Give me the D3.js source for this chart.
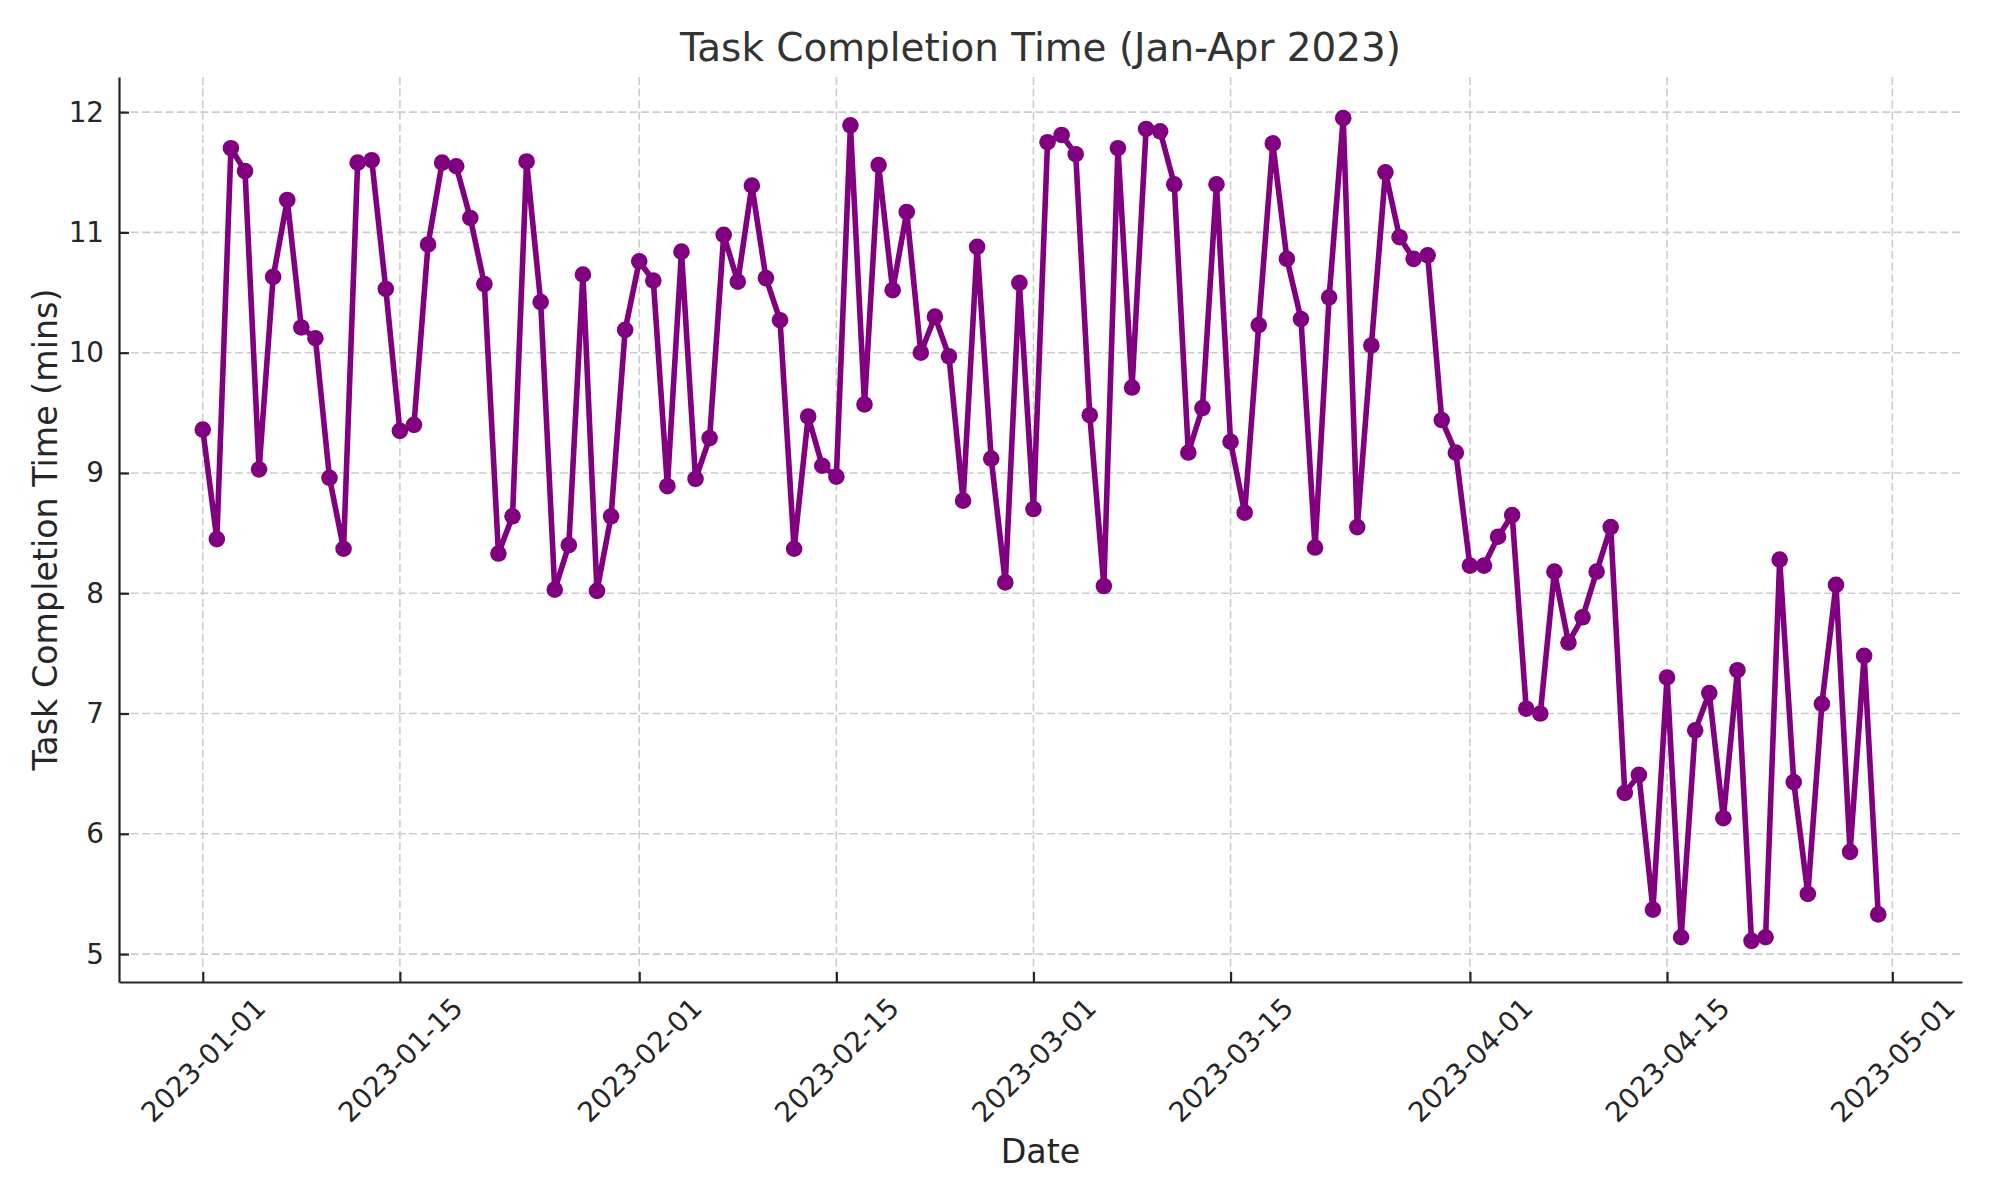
<!DOCTYPE html>
<html>
<head>
<meta charset="utf-8">
<script src="https://cdn.jsdelivr.net/npm/d3@7"></script>
<style>
    body { margin: 0; background: #fff; }
    svg text { font-family: 'DejaVu Sans', sans-serif; }
</style>
</head>
<body>
<svg id="chart"></svg>
<script>
// daily values, 2023-01-01 .. 2023-04-30
const startDate = '2023-01-01';
const endDate = '2023-05-01'; // exclusive
const completionTimes = [
    9.36, 8.45, 11.70, 11.51, 9.03, 10.63, 11.27, 10.21, 10.12, 8.96,
    8.37, 11.58, 11.60, 10.53, 9.35, 9.40, 10.90, 11.58, 11.55, 11.12,
    10.57, 8.33, 8.64, 11.59, 10.42, 8.03, 8.40, 10.65, 8.02, 8.64,
    10.19, 10.76, 10.60, 8.89, 10.84, 8.95, 9.29, 10.98, 10.59, 11.39,
    10.62, 10.27, 8.37, 9.47, 9.06, 8.97, 11.89, 9.57, 11.56, 10.52,
    11.17, 10.00, 10.30, 9.97, 8.77, 10.88, 9.12, 8.09, 10.58, 8.70,
    11.75, 11.81, 11.65, 9.48, 8.06, 11.70, 9.71, 11.86, 11.84, 11.40,
    9.17, 9.54, 11.40, 9.26, 8.67, 10.23, 11.74, 10.78, 10.28, 8.38,
    10.46, 11.95, 8.55, 10.06, 11.50, 10.96, 10.78, 10.81, 9.44, 9.17,
    8.23, 8.23, 8.47, 8.65, 7.04, 7.00, 8.18, 7.59, 7.80, 8.18,
    8.55, 6.34, 6.49, 5.37, 7.30, 5.14, 6.86, 7.17, 6.13, 7.36,
    5.11, 5.14, 8.28, 6.43, 5.50, 7.08, 8.07, 5.85, 7.48, 5.33
];
const xTickLabels = ['2023-01-01', '2023-01-15', '2023-02-01', '2023-02-15', '2023-03-01',
    '2023-03-15', '2023-04-01', '2023-04-15', '2023-05-01'];
const yTickValues = [5, 6, 7, 8, 9, 10, 11, 12];

const W = 2000, H = 1200;
const margin = { top: 77, right: 38, bottom: 218, left: 119 };
const width = W - margin.left - margin.right;
const height = H - margin.top - margin.bottom;

const parse = d3.utcParse('%Y-%m-%d');
const dates = d3.utcDay.range(parse(startDate), parse(endDate));
const data = dates.map((d, i) => ({ date: d, value: completionTimes[i] }));

const svg = d3.select('#chart').attr('width', W).attr('height', H);
const g = svg.append('g').attr('transform', `translate(${margin.left},${margin.top})`);

// matplotlib-like 5% margins
const span = (dates[dates.length - 1] - dates[0]);
const x = d3.scaleUtc()
    .domain([new Date(+dates[0] - span * 0.05), new Date(+dates[dates.length - 1] + span * 0.05)])
    .range([0, width]);
const [vmin, vmax] = d3.extent(completionTimes);
const pad = (vmax - vmin) * 0.05;
const y = d3.scaleLinear().domain([vmin - pad, vmax + pad]).range([height, 0]);

const xTicks = xTickLabels.map(parse);

// grid
const grid = g.append('g').attr('stroke', '#cccccc').attr('stroke-width', 1.6).attr('stroke-dasharray', '8,3.6');
grid.selectAll('.gx').data(xTicks).enter().append('line')
    .attr('x1', d => x(d)).attr('x2', d => x(d)).attr('y1', 0).attr('y2', height);
grid.selectAll('.gy').data(yTickValues).enter().append('line')
    .attr('x1', 0).attr('x2', width).attr('y1', d => y(d)).attr('y2', d => y(d));

// line + dots
const line = d3.line().x(d => x(d.date)).y(d => y(d.value));
g.append('path').datum(data)
    .attr('fill', 'none').attr('stroke', '#800080').attr('stroke-width', 5.6)
    .attr('stroke-linejoin', 'round').attr('stroke-linecap', 'round')
    .attr('d', line);
g.append('g').selectAll('circle').data(data).enter().append('circle')
    .attr('cx', d => x(d.date)).attr('cy', d => y(d.value)).attr('r', 8.3)
    .attr('fill', '#800080');

// axes (ticks point inward)
const xAxis = g.append('g').attr('transform', `translate(0,${height})`)
    .call(d3.axisBottom(x).tickValues(xTicks).tickFormat(d3.utcFormat('%Y-%m-%d'))
        .tickSizeInner(-10).tickSizeOuter(0));
xAxis.selectAll('text')
    .attr('y', 0).attr('dy', '0.35em').attr('text-anchor', 'middle')
    .attr('transform', 'translate(0,78) rotate(-45)');

const yAxis = g.append('g')
    .call(d3.axisLeft(y).tickValues(yTickValues).tickSizeInner(-10).tickSizeOuter(0).tickPadding(15));

[xAxis, yAxis].forEach(a => {
    a.select('.domain').attr('stroke', '#262626').attr('stroke-width', 2.2);
    a.selectAll('.tick line').attr('stroke', '#262626').attr('stroke-width', 2.2);
    a.selectAll('text').attr('font-size', 27.8).attr('fill', '#262626')
        .attr('font-family', "'DejaVu Sans', sans-serif");
});

// labels
svg.append('text').text('Task Completion Time (Jan-Apr 2023)')
    .attr('x', margin.left + width / 2).attr('y', 61)
    .attr('text-anchor', 'middle').attr('font-size', 38.9).attr('fill', '#333333');

svg.append('text').text('Date')
    .attr('x', margin.left + width / 2).attr('y', 1163)
    .attr('text-anchor', 'middle').attr('font-size', 33.3).attr('fill', '#262626');

svg.append('text').text('Task Completion Time (mins)')
    .attr('transform', `translate(57, ${margin.top + height / 2}) rotate(-90)`)
    .attr('text-anchor', 'middle').attr('font-size', 33.3).attr('fill', '#262626');
</script>
</body>
</html>
